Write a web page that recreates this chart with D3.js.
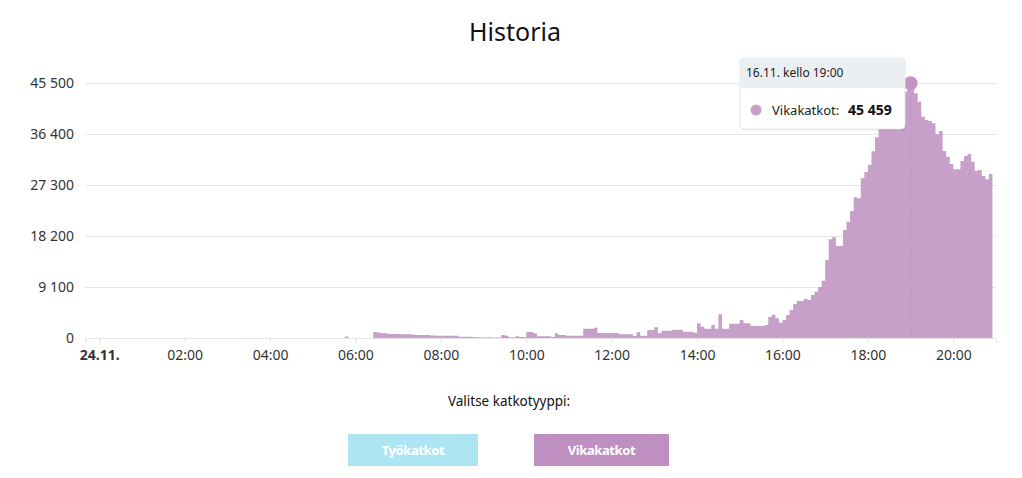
<!DOCTYPE html>
<html>
<head>
<meta charset="utf-8">
<script src="https://cdn.jsdelivr.net/npm/d3@7/dist/d3.min.js"></script>
<style>
body { margin: 0; background: #fff; font-family: "Noto Sans", sans-serif; }
</style>
</head>
<body>
<svg id="chart"></svg>
<script>
const title = 'Historia'
const seriesName = 'Vikakatkot'
const dayLabel = '24.11.'
const tooltipHeader = '16.11. kello 19:00'
const pickerLabel = 'Valitse katkotyyppi:'
const buttonLabels = ['Työkatkot', 'Vikakatkot']
const stepMinutes = 5
const yTicks = [0, 9100, 18200, 27300, 36400, 45500]
const xTickHours = [0, 2, 4, 6, 8, 10, 12, 14, 16, 18, 20]
const peakIndex = 228

// one value per 5 minutes, 00:00 ... 20:55
const values = [
    0, 0, 0, 0, 0, 0, 0, 0, 0, 0, 0, 0,
    0, 0, 0, 0, 0, 0, 0, 0, 0, 0, 0, 0,
    0, 0, 0, 0, 0, 0, 0, 0, 0, 0, 0, 0,
    0, 0, 0, 0, 0, 0, 0, 0, 0, 0, 0, 0,
    0, 0, 0, 0, 0, 0, 0, 0, 0, 0, 0, 0,
    0, 0, 0, 0, 0, 0, 0, 0, 0, 250, 0, 0,
    0, 0, 0, 0, 0, 1070, 1000, 840, 840, 714, 714, 700,
    700, 690, 690, 650, 560, 540, 535, 535, 520, 440, 430, 420,
    415, 410, 400, 390, 380, 240, 240, 230, 230, 120, 120, 110,
    110, 120, 110, 100, 100, 535, 415, 120, 120, 300, 160, 160,
    1070, 1070, 830, 300, 300, 300, 300, 200, 830, 535, 535, 415,
    415, 415, 415, 415, 1660, 1660, 1660, 1840, 890, 890, 890, 890,
    890, 890, 650, 650, 650, 650, 360, 1010, 415, 415, 1430, 1430,
    1900, 830, 1300, 1300, 1300, 1480, 1480, 1480, 1130, 1130, 1130, 950,
    2620, 2020, 1660, 1660, 2320, 1660, 4230, 1660, 1660, 2550, 2550, 2550,
    3210, 2620, 2620, 2200, 2200, 2140, 2140, 2320, 3750, 4150, 3510, 2740,
    3210, 4100, 5000, 6070, 6600, 6600, 7010, 6780, 7670, 8260, 9100, 10230,
    13900, 17600, 17970, 16410, 16410, 19270, 20750, 22660, 25100, 24920, 28490, 29600,
    30900, 33300, 35800, 37500, 38800, 40200, 41000, 42300, 42800, 43500, 43900, 44300,
    45459, 43650, 42160, 39480, 38890, 38710, 38300, 36340, 36930, 33360, 32350, 31040,
    30090, 30090, 31580, 32470, 32830, 31460, 29850, 29970, 28900, 28310, 29260, 29260
]

const W = 1022, H = 478
const svg = d3.select('#chart').attr('width', W).attr('height', H)

const fmt = d3.formatLocale({ decimal: ',', thousands: ' ', grouping: [3], currency: ['', ''] }).format(',d')

const x = d3.scaleLinear().domain([-20, 21 * 60]).range([85, 996])
const y = d3.scaleLinear().domain([0, 45500]).range([338, 83])

const purple = '#c6a0c8'

svg.append('text')
    .attr('x', 515).attr('y', 41)
    .attr('text-anchor', 'middle')
    .attr('font-size', 25)
    .attr('fill', '#111')
    .text(title)

// y grid + labels
const yAxis = svg.append('g')
    .attr('transform', `translate(${x.range()[0]},0)`)
    .call(d3.axisLeft(y).tickValues(yTicks).tickFormat(fmt)
        .tickSize(-(x.range()[1] - x.range()[0])).tickPadding(11))
yAxis.select('.domain').remove()
yAxis.selectAll('line').attr('stroke', '#e6e6e6')
yAxis.selectAll('text').attr('font-size', 14).attr('fill', '#333')
    .attr('font-family', '"Noto Sans", sans-serif')

// area, step after each point
const area = d3.area()
    .x((d, i) => x(i * stepMinutes))
    .y0(y(0))
    .y1(d => y(d))
    .curve(d3.curveStepAfter)

svg.append('path')
    .datum(values)
    .attr('d', area)
    .attr('fill', purple)

// x axis
const xAxis = svg.append('g')
    .attr('transform', `translate(0,${y(0)})`)
    .call(d3.axisBottom(x).tickValues(xTickHours.map(h => h * 60))
        .tickFormat(m => m === 0 ? dayLabel : d3.format('02d')(m / 60) + ':00')
        .tickSize(5).tickPadding(7))
xAxis.select('.domain').attr('stroke', '#e6e6e6')
xAxis.selectAll('line').attr('stroke', '#e0e0e0')
xAxis.selectAll('text').attr('font-size', 14).attr('fill', '#333')
    .attr('font-family', '"Noto Sans", sans-serif')
    .attr('font-weight', m => m === 0 ? 'bold' : null)

// crosshair + marker
const px = x(peakIndex * stepMinutes)
const py = y(values[peakIndex])
svg.append('line')
    .attr('x1', px).attr('x2', px)
    .attr('y1', py).attr('y2', y(0))
    .attr('stroke', '#b78bb9')
    .attr('stroke-dasharray', '2,3')
svg.append('circle')
    .attr('cx', px).attr('cy', py).attr('r', 7)
    .attr('fill', '#c295c4')

// tooltip
const tip = svg.append('g').attr('transform', 'translate(740,58)')
tip.append('rect')
    .attr('x', 1).attr('y', 2).attr('width', 165).attr('height', 71).attr('rx', 4)
    .attr('fill', 'rgba(0,0,0,0.06)')
tip.append('rect')
    .attr('width', 165).attr('height', 71).attr('rx', 4)
    .attr('fill', '#fff').attr('stroke', '#e3e6e9')
tip.append('path')
    .attr('d', 'M0.5,30 V4 Q0.5,0.5 4,0.5 H161 Q164.5,0.5 164.5,4 V30 Z')
    .attr('fill', '#eceff2')
tip.append('text')
    .attr('x', 6).attr('y', 19)
    .attr('font-size', 12).attr('fill', '#222')
    .text(tooltipHeader)
tip.append('circle').attr('cx', 16).attr('cy', 52).attr('r', 5.5).attr('fill', purple)
tip.append('text')
    .attr('x', 32).attr('y', 57)
    .attr('font-size', 13).attr('fill', '#222')
    .text(seriesName + ':')
tip.append('text')
    .attr('x', 108).attr('y', 57)
    .attr('font-size', 14).attr('font-weight', 'bold').attr('fill', '#111')
    .text(fmt(values[peakIndex]))

// type picker
svg.append('text')
    .attr('x', 509).attr('y', 406)
    .attr('text-anchor', 'middle')
    .attr('font-size', 13.5).attr('fill', '#111')
    .text(pickerLabel)

const btn = svg.selectAll('.btn').data(buttonLabels).enter().append('g')
    .attr('class', 'btn')
    .attr('transform', (d, i) => `translate(${i ? 534 : 348},434)`)
btn.append('rect')
    .attr('width', (d, i) => i ? 135 : 130).attr('height', 32)
    .attr('fill', (d, i) => i ? '#bf8fc1' : '#ade6f2')
btn.append('text')
    .attr('x', (d, i) => i ? 67.5 : 65).attr('y', 21)
    .attr('text-anchor', 'middle')
    .attr('font-size', 13).attr('letter-spacing', -0.4)
    .attr('font-weight', 'bold').attr('fill', '#fff')
    .text(d => d)
</script>
</body>
</html>
